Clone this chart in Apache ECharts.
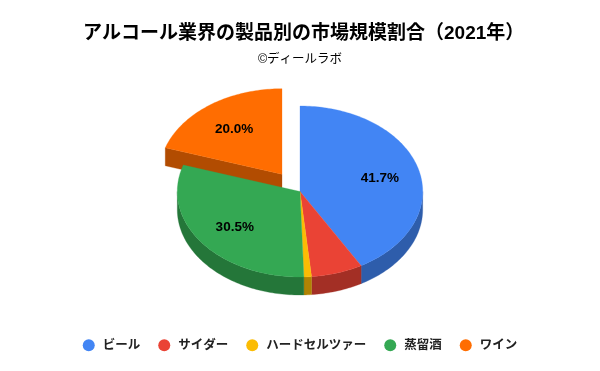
<!DOCTYPE html>
<html><head><meta charset="utf-8">
<style>html,body{margin:0;padding:0;background:#fff}#c{width:600px;height:371px}</style>
<script src="https://cdn.jsdelivr.net/npm/echarts@6/dist/echarts.min.js"></script>
</head><body><div id="c"></div>
<script>
const categories = ['ビール','サイダー','ハードセルツァー','蒸留酒','ワイン'];
const shares = [41.7, 6.8, 1.0, 30.5, 20.0];
const colors = ['#4285F4','#EA4335','#FBBC04','#34A853','#FF6D01'];
const sideColors = ['#2E5DAB','#A32F25','#B08303','#247639','#B24C01'];
const explode = [0, 0, 0, 0, 0.25];
const labelMin = 10;
const font = 'Arial, "Liberation Sans", "Noto Sans CJK JP", sans-serif';

const CX = 300, CY = 191.5, RX = 122.7, RY = 85.5, DEPTH = 18;
const total = shares.reduce((a, b) => a + b, 0);
function pt(t, r, ox, oy, d) {
  return [CX + ox + r * RX * Math.sin(t), CY + oy - r * RY * Math.cos(t) + (d || 0)];
}
function arc(a, b, ox, oy, d) {
  const n = Math.max(2, Math.ceil((b - a) / 0.02)), out = [];
  for (let i = 0; i <= n; i++) out.push(pt(a + (b - a) * i / n, 1, ox, oy, d));
  return out;
}
function renderItem(params, api) {
  const i = params.seriesIndex;
  const before = shares.slice(0, i).reduce((a, b) => a + b, 0);
  const a = before / total * 2 * Math.PI;
  const b = (before + api.value(0)) / total * 2 * Math.PI;
  const m = (a + b) / 2;
  const ox = explode[i] * RX * Math.sin(m), oy = -explode[i] * RY * Math.cos(m);
  const kids = [];
  const side = sideColors[i];
  const poly = (points, fill) => kids.push({
    type: 'polygon', shape: { points }, style: { fill, stroke: fill, lineWidth: 0.3 }
  });
  const fa = Math.max(a, Math.PI / 2), fb = Math.min(b, 3 * Math.PI / 2);
  if (fb > fa) poly(arc(fa, fb, ox, oy, 0).concat(arc(fa, fb, ox, oy, DEPTH).reverse()), side);
  if (explode[i] > 0) {
    const r = pt(a, 1, ox, oy, 0), c = pt(a, 0, ox, oy, 0);
    poly([r, c, [c[0], c[1] + DEPTH], [r[0], r[1] + DEPTH]], side);
  }
  poly([pt(a, 0, ox, oy, 0)].concat(arc(a, b, ox, oy, 0)), colors[i]);
  if (api.value(0) >= labelMin) {
    const p = pt(m, 0.67, ox, oy, 0);
    kids.push({
      type: 'text', z2: 10,
      style: { text: api.value(0).toFixed(1) + '%', x: p[0] + 0.5, y: p[1] + 1.5, align: 'center', verticalAlign: 'middle',
        fill: '#000', font: 'bold 13.5px ' + font }
    });
  }
  return { type: 'group', children: kids };
}
const chart = echarts.init(document.getElementById('c'), null, { renderer: 'canvas' });
chart.setOption({
  backgroundColor: '#fff',
  animation: false,
  title: [
    { text: 'アルコール業界の製品別の市場規模割合（2021年）', left: 78, top: 19,
      textStyle: { fontFamily: font, fontSize: 19, fontWeight: 'bold', color: '#000' } },
    { text: '©ディールラボ', left: 'center', top: 48,
      textStyle: { fontFamily: font, fontSize: 12.5, fontWeight: 'normal', color: '#000' } }
  ],
  legend: {
    data: categories, left: 'center', top: 334, icon: 'circle', itemWidth: 12, itemHeight: 12, itemGap: 18,
    textStyle: { fontFamily: font, fontSize: 12.5, fontWeight: 'bold', color: '#222', padding: [0, 0, 0, 3] }
  },
  series: categories.map((name, i) => ({
    type: 'custom', name, coordinateSystem: 'none', renderItem,
    z: explode[i] > 0 ? 1 : 2,
    itemStyle: { color: colors[i] },
    data: [{ name, value: [shares[i]] }]
  }))
});
</script></body></html>
